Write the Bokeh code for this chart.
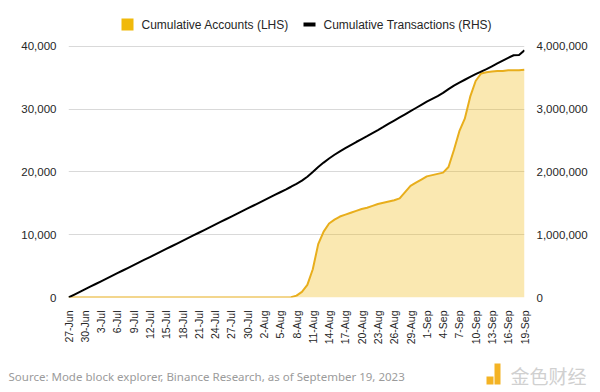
import numpy as np
import pandas as pd
from bokeh.plotting import figure
from bokeh.models import (ColumnDataSource, LinearAxis, Range1d, FixedTicker,
                          NumeralTickFormatter, Label, BoxAnnotation)
from bokeh.core.properties import value
from bokeh.embed import file_html
from bokeh.resources import INLINE

# ---------------- data ----------------
start_date = "2023-06-27"
end_date = "2023-09-19"

# Cumulative accounts (LHS), one value per day 27-Jun .. 19-Sep
accounts = [0] * 41 + [
    50, 300, 900, 2000, 4500, 8500, 10500, 11800, 12400, 12900,
    13200, 13500, 13800, 14100, 14300, 14600, 14900, 15100, 15300, 15500,
    15800, 16800, 17800, 18300, 18800, 19300, 19500, 19700, 19900, 20800,
    23500, 26500, 28500, 32000, 34500, 35700, 35900, 36000, 36100, 36100,
    36200, 36200, 36200, 36300]

# Cumulative transactions (RHS), one value per day
transactions = [
    0, 43000, 86000, 129000, 172000, 215000, 258000, 301000, 344000, 387000,
    430000, 473000, 516000, 559000, 602000, 645000, 688000, 731000, 774000, 817000,
    860000, 903000, 946000, 989000, 1032000, 1075000, 1118000, 1161000, 1204000, 1247000,
    1290000, 1333000, 1376000, 1419000, 1462000, 1505000, 1548000, 1591000, 1634000, 1677000,
    1720000, 1765000, 1812000, 1862000, 1925000, 2000000, 2080000, 2150000, 2215000, 2275000,
    2330000, 2380000, 2430000, 2478000, 2525000, 2572000, 2620000, 2668000, 2718000, 2770000,
    2820000, 2870000, 2920000, 2970000, 3020000, 3070000, 3120000, 3165000, 3210000, 3260000,
    3320000, 3375000, 3425000, 3470000, 3515000, 3560000, 3600000, 3640000, 3685000, 3730000,
    3775000, 3820000, 3860000, 3865000, 3940000]

tick_labels = ["27-Jun", "30-Jun", "3-Jul", "6-Jul", "9-Jul", "12-Jul", "15-Jul", "18-Jul",
               "21-Jul", "24-Jul", "27-Jul", "30-Jul", "2-Aug", "5-Aug", "8-Aug", "11-Aug",
               "14-Aug", "17-Aug", "20-Aug", "23-Aug", "26-Aug", "29-Aug", "1-Sep", "4-Sep",
               "7-Sep", "10-Sep", "13-Sep", "16-Sep", "19-Sep"]
left_ticks = [0, 10000, 20000, 30000, 40000]
right_ticks = [0, 1000000, 2000000, 3000000, 4000000]

series_labels = ["Cumulative Accounts (LHS)", "Cumulative Transactions (RHS)"]
source_text = "Source: Mode block explorer, Binance Research, as of September 19, 2023"
watermark = "金色财经"

# ---------------- build ----------------
dates = pd.date_range(start_date, end_date, freq="D")
day = np.asarray((dates - dates[0]).days)
tick_pos = [int(d) for d in day if d % 3 == 0]

FONT = "Liberation Sans"
GOLD = "#F0B90B"
TXT = "#262626"

src = ColumnDataSource(dict(day=day, accounts=accounts, tx=transactions))

# frame: x 68..524, y 0..297 (top part of frame holds the legend)
p = figure(width=600, height=353, x_range=Range1d(int(day[0]), int(day[-1])),
           y_range=Range1d(0, 47330), output_backend="svg", toolbar_location=None,
           min_border_left=68, min_border_right=76, min_border_top=0, min_border_bottom=56,
           outline_line_color=None, background_fill_color="white", border_fill_color="white")
p.extra_y_ranges = {"tx": Range1d(0, 4733000)}

p.varea(x="day", y1=0, y2="accounts", source=src, fill_color=GOLD, fill_alpha=0.32)
p.line("day", "accounts", source=src, line_color="#E8AE1C", line_width=2)
p.line("day", "tx", source=src, y_range_name="tx", line_color="black", line_width=2)

yl = p.yaxis[0]
yl.ticker = FixedTicker(ticks=left_ticks)
yl.formatter = NumeralTickFormatter(format="0,0")
yr = LinearAxis(y_range_name="tx", ticker=FixedTicker(ticks=right_ticks),
                formatter=NumeralTickFormatter(format="0,0"))
p.add_layout(yr, "right")
for ax in (yl, yr):
    ax.axis_line_color = None
    ax.major_tick_line_color = None
    ax.minor_tick_line_color = None
    ax.major_label_text_font = FONT
    ax.major_label_text_font_size = "11.5px"
    ax.major_label_text_color = TXT
    ax.major_label_standoff = 6

xa = p.xaxis[0]
xa.ticker = FixedTicker(ticks=tick_pos)
xa.major_label_overrides = {t: lbl for t, lbl in zip(tick_pos, tick_labels)}
xa.major_label_orientation = np.pi / 2
xa.axis_line_color = None
xa.major_tick_line_color = None
xa.minor_tick_line_color = None
xa.major_label_text_font = FONT
xa.major_label_text_font_size = "10.5px"
xa.major_label_text_color = TXT
xa.major_label_standoff = 7

p.xgrid.grid_line_color = None
p.ygrid.ticker = FixedTicker(ticks=left_ticks)
p.ygrid.grid_line_color = "#d9d9d9"
p.ygrid.grid_line_width = 1


def box(fig, l, r, b, t, color):
    fig.add_layout(BoxAnnotation(left=l, right=r, bottom=b, top=t,
                                 left_units="screen", right_units="screen",
                                 bottom_units="screen", top_units="screen",
                                 fill_color=color, fill_alpha=1.0, line_color=None,
                                 level="overlay"))


def label(fig, x, y, text, font, size, color):
    fig.add_layout(Label(x=x, y=y, x_units="screen", y_units="screen", text=text,
                         text_font=font, text_font_size=size, text_color=color,
                         text_baseline="middle", text_align="left"))


# legend (screen units, relative to frame bottom-left)
box(p, 53, 65, 267, 279, GOLD)
label(p, 73, 273, series_labels[0], FONT, "12px", TXT)
box(p, 235, 247, 271, 275, "black")
label(p, 255, 273, series_labels[1], FONT, "12px", TXT)

# footer as its own small canvas
f = figure(width=600, height=39, x_range=Range1d(0, 600), y_range=Range1d(0, 39),
           output_backend="svg", toolbar_location=None, min_border=0,
           outline_line_color=None, background_fill_color="white", border_fill_color="white")
f.axis.visible = False
f.grid.visible = False
f.text(x=[8], y=[16], text=[source_text], text_font=value("Noto Sans"),
       text_font_size="11.5px", text_color="#9b9b9b", text_baseline="middle")
f.quad(left=[494], right=[500], bottom=[8], top=[29], fill_color="#F4B324", line_color=None)
f.quad(left=[486], right=[493], bottom=[8], top=[16], fill_color="#F4B324", line_color=None)
f.text(x=[510], y=[17], text=[watermark], text_font=value("Noto Sans CJK SC"),
       text_font_size="19px", text_color="#d0d0d0", text_baseline="middle")

open("out.html", "w").write(file_html([p, f], INLINE))
